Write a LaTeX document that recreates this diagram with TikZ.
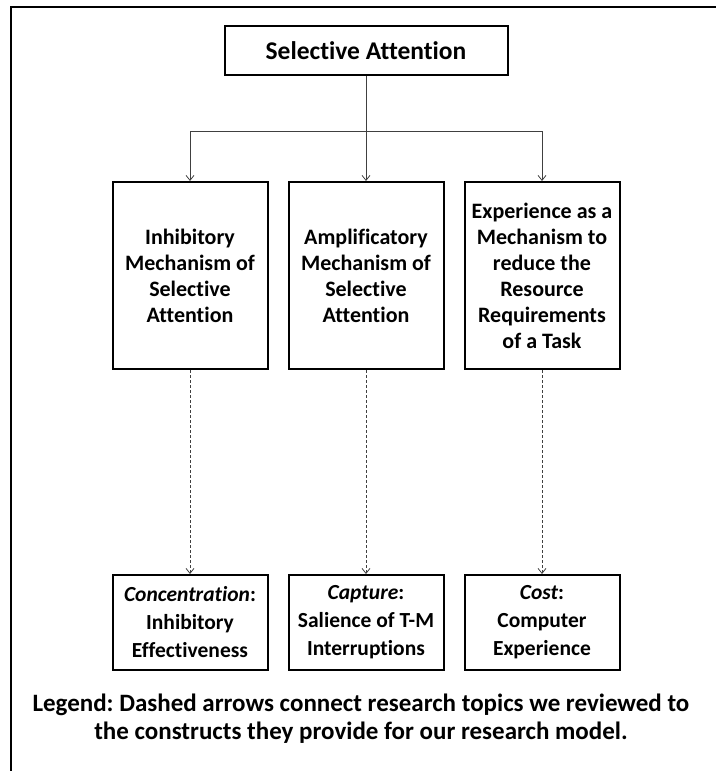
\documentclass[tikz,border=0pt]{standalone}
\usepackage{fontspec}
\setmainfont{Carlito}[Ligatures=NoCommon]
\usetikzlibrary{positioning,arrows.meta}
\frenchspacing

\begin{document}
\begin{tikzpicture}[
        x=1pt, y=-1pt,
        every node/.style={font=\fontsize{22}{26}\selectfont\bfseries},
        box/.style={draw, line width=2pt, align=center, inner sep=2pt},
        topic/.style={box, minimum width=155pt, minimum height=187pt},
        construct/.style={box, minimum width=155pt, minimum height=95pt, font=\fontsize{21.5}{28}\selectfont\bfseries},
        arrow/.style={-{Straight Barb[length=5pt,width=8pt]}, line width=0.8pt, black!75},
        dasharrow/.style={arrow, dash pattern=on 3pt off 2pt},
        frame/.style={line width=2pt}
    ]
        \useasboundingbox (0,0) rectangle (716,771);
        \draw[frame] (11,771) -- (11,7) -- (716,7);

        % Top: theme
        \node[box, minimum width=283pt, minimum height=49pt, font=\fontsize{25.5}{28}\selectfont\bfseries] (title) at (366,50.5) {Selective Attention};

        % Row 1: research topics
        \node[topic, below=105pt of title] (amp) {Amplificatory\\Mechanism of\\Selective\\Attention};
        \node[topic, left=19pt of amp] (inhib) {Inhibitory\\Mechanism of\\Selective\\Attention};
        \node[topic, right=19pt of amp] (exper) {Experience as a\\Mechanism to\\reduce the\\Resource\\Requirements\\of a Task};

        % Row 2: constructs
        \node[construct, below=204pt of inhib] (conc) {\textit{Concentration}:\\Inhibitory\\Effectiveness};
        \node[construct, below=204pt of amp] (capt) {\textit{Capture}:\\Salience of T-M\\Interruptions};
        \node[construct, below=204pt of exper] (cost) {\textit{Cost}:\\Computer\\Experience};

        % Legend
        \node[below=23pt of capt, align=center, inner sep=0pt, xshift=-5pt, font=\fontsize{25}{28}\selectfont\bfseries] (legend) {Legend: Dashed arrows connect research topics we reviewed to\\the constructs they provide for our research model.};

        % Arrows
        \draw[black!75, line width=0.8pt] (title.south) -- ++(0,55) coordinate (fork);
        \draw[arrow] (fork) -| (inhib.north);
        \draw[arrow] (title.south) -- (amp.north);
        \draw[arrow] (fork) -| (exper.north);
        \draw[dasharrow] (inhib) -- (conc);
        \draw[dasharrow] (amp) -- (capt);
        \draw[dasharrow] (exper) -- (cost);
    \end{tikzpicture}
\end{document}
